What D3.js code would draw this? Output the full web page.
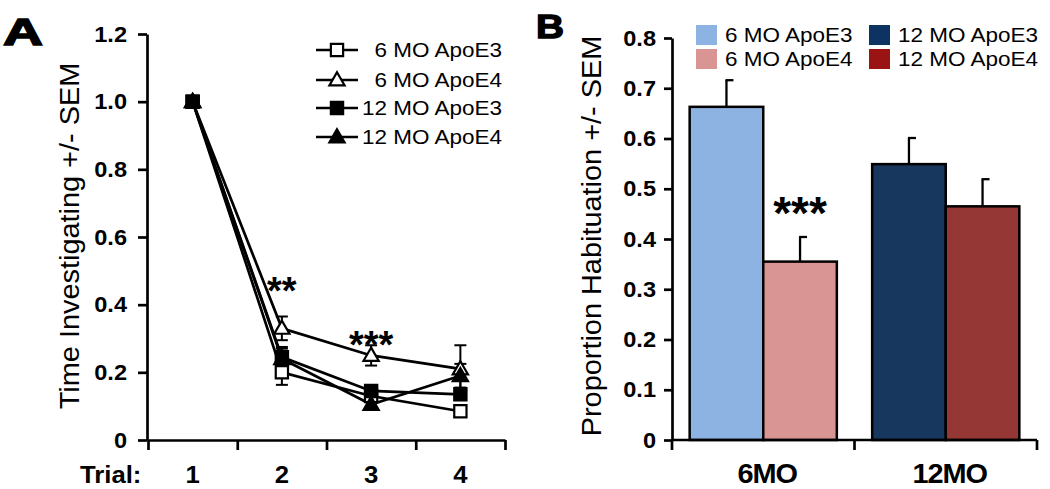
<!DOCTYPE html>
<html><head><meta charset="utf-8">
<script src="https://cdn.jsdelivr.net/npm/d3@7/dist/d3.min.js"></script>
<style>
body{margin:0;background:#fff;}
svg text{font-family:"Liberation Sans",Arial,sans-serif;fill:#000;}
</style></head>
<body><svg id="c" width="1050" height="489"></svg>
<script>
// ---------- Panel A data ----------
const trials = [1, 2, 3, 4];
const seriesA = ["6 MO ApoE3", "6 MO ApoE4", "12 MO ApoE3", "12 MO ApoE4"];
const meanE3_6 = [1.0, 0.20, 0.13, 0.085];
const meanE4_6 = [1.0, 0.33, 0.25, 0.21];
const meanE3_12 = [1.0, 0.245, 0.145, 0.135];
const meanE4_12 = [1.0, 0.24, 0.105, 0.19];
const semE3_6 = [0, 0.037, 0.015, 0.01];
const semE4_6 = [0, 0.035, 0.03, 0.07];
const semE3_12 = [0, 0.03, 0.01, 0.01];
const semE4_12 = [0, 0.03, 0.015, 0.035];
const yTicksA = [0, 0.2, 0.4, 0.6, 0.8, 1.0, 1.2];
const yTickLabelsA = ["0", "0.2", "0.4", "0.6", "0.8", "1.0", "1.2"];
const sigA = [{trial: 2, value: 0.47, label: "**"}, {trial: 3, value: 0.31, label: "***"}];

// ---------- Panel B data ----------
const ages = ["6MO", "12MO"];
const genotypes = ["ApoE3", "ApoE4"];
const barMeans = {"6MO": [0.663, 0.355], "12MO": [0.549, 0.465]};
const barSems = {"6MO": [0.053, 0.049], "12MO": [0.052, 0.054]};
const seriesB = ["6 MO ApoE3", "6 MO ApoE4", "12 MO ApoE3", "12 MO ApoE4"];
const barColors = {"6MO": ["#8db3e2", "#d99594"], "12MO": ["#17375e", "#953735"]};
const legendColorsB = ["#8db3e2", "#d99594", "#0d3362", "#9b1414"];
const yTicksB = [0, 0.1, 0.2, 0.3, 0.4, 0.5, 0.6, 0.7, 0.8];
const yTickLabelsB = ["0", "0.1", "0.2", "0.3", "0.4", "0.5", "0.6", "0.7", "0.8"];

const svg = d3.select("#c");
const SW = 2.7;

// ================= Panel A =================
const xA = d3.scaleLinear().domain([0.5, 4.5]).range([148, 505]);
const yA = d3.scaleLinear().domain([0, 1.2]).range([440, 34]);
const gA = svg.append("g");

const yAxA = d3.axisLeft(yA).tickValues(yTicksA).tickFormat((d, i) => yTickLabelsA[i]).tickSize(9).tickSizeOuter(0).tickPadding(11);
const yAg = gA.append("g").attr("transform", "translate(147,0)").call(yAxA);
yAg.selectAll("path,line").attr("stroke", "#000").attr("stroke-width", SW);
yAg.selectAll("text").attr("font-size", 22).attr("font-weight", "bold").attr("class", "st");

const xAxA = d3.axisBottom(xA).tickValues([0.5, 1.5, 2.5, 3.5, 4.5]).tickFormat("").tickSize(10).tickSizeOuter(0);
const xAg = gA.append("g").attr("transform", "translate(0,440)").call(xAxA);
xAg.selectAll("path,line").attr("stroke", "#000").attr("stroke-width", SW);

gA.selectAll("text.trial").data(trials).join("text").attr("class", "st")
  .attr("x", d => xA(d)).attr("y", 483).attr("text-anchor", "middle")
  .attr("font-size", 24).attr("font-weight", "bold").text(d => d);
gA.append("text").attr("class", "st").attr("x", 80).attr("y", 483).attr("font-size", 24).attr("font-weight", "bold").text("Trial:");

gA.append("text").attr("class", "st").attr("transform", "translate(79,236) rotate(-90)")
  .attr("text-anchor", "middle").attr("font-size", 27).text("Time Investigating +/- SEM");

gA.append("text").attr("x", 3).attr("y", 45).attr("font-size", 36).attr("font-weight", "bold")
  .attr("stroke", "#000").attr("stroke-width", 1.4)
  .attr("textLength", 40).attr("lengthAdjust", "spacingAndGlyphs").text("A");

const dataA = [
  {name: seriesA[0], mean: meanE3_6, sem: semE3_6, shape: "square", fill: "#fff"},
  {name: seriesA[1], mean: meanE4_6, sem: semE4_6, shape: "triangle", fill: "#fff"},
  {name: seriesA[2], mean: meanE3_12, sem: semE3_12, shape: "square", fill: "#000"},
  {name: seriesA[3], mean: meanE4_12, sem: semE4_12, shape: "triangle", fill: "#000"}
];
const line = d3.line().x((d, i) => xA(trials[i])).y(d => yA(d));
// error bars
dataA.forEach(s => {
  s.mean.forEach((m, i) => {
    if (!s.sem[i]) return;
    const x = xA(trials[i]);
    const g = gA.append("g").attr("stroke", "#000").attr("stroke-width", 2);
    g.append("line").attr("x1", x).attr("x2", x).attr("y1", yA(m - s.sem[i])).attr("y2", yA(m + s.sem[i]));
    [m - s.sem[i], m + s.sem[i]].forEach(v => g.append("line").attr("x1", x - 6).attr("x2", x + 6).attr("y1", yA(v)).attr("y2", yA(v)));
  });
});
dataA.forEach(s => {
  gA.append("path").datum(s.mean).attr("d", line).attr("fill", "none").attr("stroke", "#000").attr("stroke-width", SW);
});
function marker(g, shape, fill, x, y) {
  const sym = shape === "square" ? d3.symbolSquare : d3.symbolTriangle;
  const size = shape === "square" ? 150 : 100;
  g.append("path").attr("d", d3.symbol(sym, size)()).attr("transform", `translate(${x},${y + (shape === "triangle" ? 1 : 0)})`)
    .attr("fill", fill).attr("stroke", "#000").attr("stroke-width", 2.2);
}
dataA.forEach(s => s.mean.forEach((m, i) => marker(gA, s.shape, s.fill, xA(trials[i]), yA(m))));

sigA.forEach(d => gA.append("text").attr("x", xA(d.trial)).attr("y", yA(d.value) + 23).attr("text-anchor", "middle")
  .attr("font-size", 38).attr("font-weight", "bold").text(d.label));

// legend A
dataA.forEach((s, i) => {
  const y = [50, 80, 108, 137][i];
  gA.append("line").attr("x1", 316).attr("x2", 358).attr("y1", y).attr("y2", y).attr("stroke", "#000").attr("stroke-width", SW);
  marker(gA, s.shape, s.fill, 337, y);
  gA.append("text").attr("class", "st").attr("x", 502).attr("y", y + 7).attr("text-anchor", "end").attr("font-size", 21).text(s.name);
});

// ================= Panel B =================
const xB = d3.scaleBand().domain(ages).range([672, 1037]).paddingInner(0).paddingOuter(0);
const xSub = d3.scaleBand().domain(genotypes).range([0, xB.bandwidth()]).paddingInner(0).paddingOuter(0.24);
const yB = d3.scaleLinear().domain([0, 0.8]).range([440, 38]);
const gB = svg.append("g");

const bars = [];
ages.forEach(a => genotypes.forEach((gt, j) => bars.push({age: a, gt: gt, v: barMeans[a][j], e: barSems[a][j], c: barColors[a][j]})));

// error bars (upper only)
bars.forEach(b => {
  const cx = xB(b.age) + xSub(b.gt) + xSub.bandwidth() / 2;
  gB.append("line").attr("x1", cx).attr("x2", cx).attr("y1", yB(b.v)).attr("y2", yB(b.v + b.e)).attr("stroke", "#000").attr("stroke-width", 2.3);
  gB.append("line").attr("x1", cx - 1).attr("x2", cx + 7).attr("y1", yB(b.v + b.e)).attr("y2", yB(b.v + b.e)).attr("stroke", "#000").attr("stroke-width", 2.3);
});
gB.selectAll("rect.bar").data(bars).join("rect").attr("class", "bar")
  .attr("x", d => xB(d.age) + xSub(d.gt)).attr("width", xSub.bandwidth())
  .attr("y", d => yB(d.v)).attr("height", d => yB(0) - yB(d.v))
  .attr("fill", d => d.c).attr("stroke", "#000").attr("stroke-width", 2.5);

const yAxB = d3.axisLeft(yB).tickValues(yTicksB).tickFormat((d, i) => yTickLabelsB[i]).tickSize(8).tickSizeOuter(0).tickPadding(8);
const yBg = gB.append("g").attr("transform", "translate(672,0)").call(yAxB);
yBg.selectAll("path,line").attr("stroke", "#000").attr("stroke-width", SW);
yBg.selectAll("text").attr("font-size", 22).attr("font-weight", "bold").attr("class", "st");

const bounds = [672, 672 + xB.step(), 672 + 2 * xB.step()];
const xBg = gB.append("g");
xBg.append("line").attr("x1", 672).attr("x2", 1037).attr("y1", 440).attr("y2", 440).attr("stroke", "#000").attr("stroke-width", SW);
bounds.forEach(x => xBg.append("line").attr("x1", x).attr("x2", x).attr("y1", 440).attr("y2", 450).attr("stroke", "#000").attr("stroke-width", SW));
gB.selectAll("text.age").data(ages).join("text").attr("class", "st")
  .attr("x", d => xB(d) + xB.bandwidth() / 2 + 4).attr("y", 483).attr("text-anchor", "middle")
  .attr("font-size", 27).attr("font-weight", "bold").attr("letter-spacing", -1).text(d => d);

gB.append("text").attr("class", "st").attr("transform", "translate(601,236) rotate(-90)")
  .attr("text-anchor", "middle").attr("font-size", 27).text("Proportion Habituation +/- SEM");
gB.append("text").attr("x", 536).attr("y", 38).attr("font-size", 34).attr("font-weight", "bold")
  .attr("stroke", "#000").attr("stroke-width", 1.4)
  .attr("textLength", 28).attr("lengthAdjust", "spacingAndGlyphs").text("B");

gB.append("text").attr("x", xB("6MO") + xSub("ApoE4") + xSub.bandwidth() / 2).attr("y", yB(0.5) + 40)
  .attr("text-anchor", "middle").attr("font-size", 46).attr("font-weight", "bold").text("***");

// legend B
seriesB.forEach((s, i) => {
  const col = Math.floor(i / 2), row = i % 2;
  const sx = [696, 869][col], sy = [25, 49][row];
  gB.append("rect").attr("x", sx).attr("y", sy).attr("width", 21).attr("height", 20).attr("fill", legendColorsB[i]);
  gB.append("text").attr("class", "st").attr("x", sx + 29).attr("y", sy + 17).attr("font-size", 21).text(s);
});

// widen text slightly to match reference glyph proportions
svg.selectAll("text.st").each(function () {
  const w = this.getComputedTextLength();
  d3.select(this).attr("textLength", w * 1.07).attr("lengthAdjust", "spacingAndGlyphs");
});
</script></body></html>
